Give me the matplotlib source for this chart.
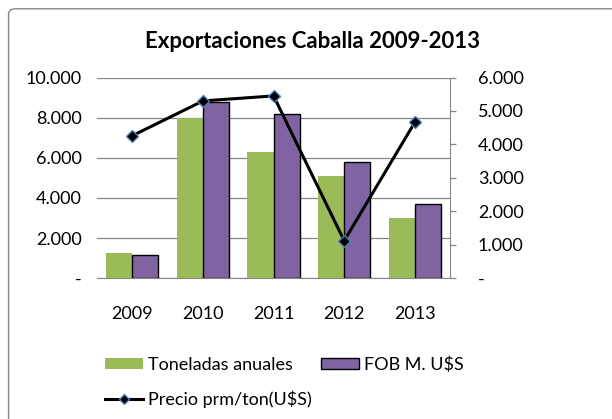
import numpy as np
import matplotlib.pyplot as plt
from matplotlib.patches import FancyBboxPatch
from matplotlib.lines import Line2D
from matplotlib.ticker import FuncFormatter

years = ["2009", "2010", "2011", "2012", "2013"]
toneladas = [1250, 8000, 6280, 5080, 3000]
fob = [1180, 8780, 8200, 5800, 3715]
precio = [4260, 5300, 5450, 1120, 4660]

plt.rcParams["font.family"] = ["Lato", "DejaVu Sans"]

green = "#9bbb59"
purple = "#8064a2"
grid = "#868686"


def miles(v, pos):
    if v == 0:
        return "-"
    return f"{v:,.0f}".replace(",", ".")


fig = plt.figure(figsize=(6.12, 4.19), dpi=100)
ax = fig.add_axes([0.1585, 0.336, 0.577, 0.479])
ax2 = ax.twinx()

x = np.arange(len(years))
w = 0.37
ax.bar(x - w / 2, toneladas, w, color=green, edgecolor="none", label="Toneladas anuales", zorder=2)
ax.bar(x + w / 2, fob, w, color=purple, edgecolor="black", linewidth=1.0, label="FOB M. U$S", zorder=2)

ax2.plot(x, precio, color="black", lw=2.2, marker="D", markersize=6,
         markerfacecolor="black", markeredgecolor="#4f81bd", markeredgewidth=1.0,
         label="Precio prm/ton(U$S)")

ax.set_xlim(-0.5, 4.5)
ax.set_ylim(0, 10000)
ax.set_yticks(np.arange(0, 10001, 2000))
ax.yaxis.set_major_formatter(FuncFormatter(miles))
ax.yaxis.grid(True, color=grid, lw=0.9, zorder=0)
ax.set_axisbelow(True)
ax.set_xticks(x)
ax.set_xticklabels(years)
ax.tick_params(axis="x", length=0, pad=20, labelsize=13)
ax.tick_params(axis="y", length=0, pad=11, labelsize=13)

ax2.set_ylim(0, 6000)
ax2.set_yticks(np.arange(0, 6001, 1000))
ax2.yaxis.set_major_formatter(FuncFormatter(miles))
ax2.tick_params(axis="y", length=4, width=0.9, color=grid, pad=16, labelsize=13, direction="out")

for a in (ax, ax2):
    for side in ("top", "left", "right"):
        a.spines[side].set_visible(False)
    a.spines["bottom"].set_color(grid)
ax2.spines["right"].set_visible(True)
ax2.spines["right"].set_color(grid)
ax2.spines["bottom"].set_visible(False)

fig.text(0.511, 0.902, "Exportaciones Caballa 2009-2013", ha="center", va="center",
         fontsize=16, fontweight="bold")

h1 = plt.Rectangle((0, 0), 1, 1, facecolor=green, edgecolor="none")
h2 = plt.Rectangle((0, 0), 1, 1, facecolor=purple, edgecolor="black")
h3 = Line2D([], [], color="black", lw=2.2, marker="D", markersize=5,
            markerfacecolor="black", markeredgecolor="#4f81bd")
fig.legend([h1, h3, h2], ["Toneladas anuales", "Precio prm/ton(U$S)", "FOB M. U$S"],
           ncol=2, loc="upper left", bbox_to_anchor=(0.1716, 0.15), frameon=False,
           fontsize=13, handlelength=2.1, handleheight=0.6, columnspacing=0.5,
           labelspacing=1.0, handletextpad=0.3, borderaxespad=0, borderpad=0)

border = FancyBboxPatch((0.014, -0.05), 1.05, 1.029, boxstyle="round,pad=0,rounding_size=0.012",
                        transform=fig.transFigure, facecolor="none", edgecolor="#868686", lw=1.0)
fig.patches.append(border)

fig.savefig("out.png", dpi=100)
